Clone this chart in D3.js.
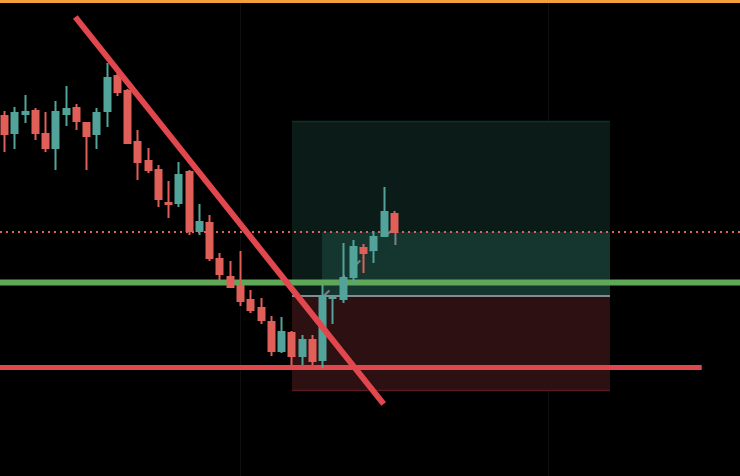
<!DOCTYPE html>
<html><head><meta charset="utf-8">
<script src="https://cdn.jsdelivr.net/npm/d3@7"></script>
<style>html,body{margin:0;padding:0;background:#000;overflow:hidden}</style>
</head><body>
<svg id="chart" width="740" height="476"></svg>
<script>
// OHLC candles (price units)
const opens  = [38.5,36.6,38.5,39.0,36.7,35.1,38.5,39.3,37.8,36.5,38.8,42.5,41.0,35.9,34.0,33.1,29.8,29.6,32.9,26.8,27.8,24.2,22.4,21.5,20.1,19.3,17.9,14.8,16.8,14.3,16.1,13.9,20.1,20.0,22.2,25.3,24.9,26.3,28.7];
const highs  = [38.9,39.3,40.5,39.2,38.8,39.9,41.4,39.6,37.8,39.2,43.7,42.7,41.1,37.0,35.2,33.5,31.9,33.8,33.0,29.6,28.5,24.7,23.9,24.9,21.0,20.2,18.4,18.3,16.9,16.5,16.5,21.5,20.5,25.7,26.0,25.6,26.9,31.3,28.9];
const lows   = [34.8,35.1,37.7,36.0,34.8,33.0,37.4,37.0,33.0,35.1,37.3,40.4,35.6,32.0,32.7,29.3,28.2,29.3,26.5,26.5,23.9,22.0,21.2,19.4,18.7,17.6,14.4,14.7,13.5,13.5,13.5,13.2,17.6,19.7,21.7,22.7,23.7,26.3,26.7];
const closes = [36.5,38.8,38.9,36.6,35.1,38.9,39.2,37.8,36.3,38.8,42.3,40.7,35.6,33.7,32.9,30.0,29.5,32.6,26.8,27.9,24.1,22.5,21.2,19.8,18.9,17.9,14.8,16.9,14.3,16.1,13.8,20.5,20.3,22.3,25.4,24.6,26.4,28.9,26.7];

// Drawing levels (price units) and bar indices
const trendline = [{i:6.95, p:48.3},{i:37.0, p:9.6}];
const supportLevel = {p:13.25, i0:-1, i1:68.0};
const greenLevel = 21.75;
const currentPrice = 26.8;
const position = {i0:28.07, i1:59.06, entry:20.4, target:37.9, stop:10.9, fillStart:31};
const projection = [{i:31.15, p:20.4},{i:38.2, p:27.4}];
const gridBars = [23, 53];

const W = 740, H = 476;
const x = d3.scaleLinear().domain([0, 38]).range([4, 393.9]);
const y = d3.scaleLinear().domain([50, 2.4]).range([0, H]);
const bodyW = 8;

const svg = d3.select("#chart");
svg.append("rect").attr("width",W).attr("height",H).attr("fill","#000");

// grid
svg.selectAll("line.grid").data(gridBars).enter().append("line")
  .attr("x1",d=>Math.round(x(d))+0.5).attr("x2",d=>Math.round(x(d))+0.5)
  .attr("y1",0).attr("y2",H).attr("stroke","#0f0f0f").attr("stroke-width",1);

// position tool
const px0 = x(position.i0), px1 = x(position.i1);
svg.append("rect").attr("x",px0).attr("y",y(position.target)).attr("width",px1-px0)
  .attr("height",y(position.entry)-y(position.target)).attr("fill","#0b1c18");
svg.append("line").attr("x1",px0).attr("x2",px1).attr("y1",y(position.target)+0.5).attr("y2",y(position.target)+0.5)
  .attr("stroke","#12302a").attr("stroke-width",1.5);
svg.append("rect").attr("x",x(position.fillStart)).attr("y",y(currentPrice)).attr("width",px1-x(position.fillStart))
  .attr("height",y(position.entry)-y(currentPrice)).attr("fill","#15352f");
svg.append("rect").attr("x",px0).attr("y",y(position.entry)).attr("width",px1-px0)
  .attr("height",y(position.stop)-y(position.entry)).attr("fill","#2d1012");
svg.append("line").attr("x1",px0).attr("x2",px1).attr("y1",y(position.stop)-0.5).attr("y2",y(position.stop)-0.5)
  .attr("stroke","#5a1a1f").attr("stroke-width",1.5);
svg.append("line").attr("x1",px0).attr("x2",px1).attr("y1",y(position.entry)).attr("y2",y(position.entry))
  .attr("stroke","#868b92").attr("stroke-width",2);

// current price dotted line
svg.append("line").attr("x1",0).attr("x2",W).attr("y1",y(currentPrice)).attr("y2",y(currentPrice))
  .attr("stroke","#e0605a").attr("stroke-width",2).attr("stroke-dasharray","2,4");

// green level
svg.append("line").attr("x1",0).attr("x2",W).attr("y1",y(greenLevel)).attr("y2",y(greenLevel))
  .attr("stroke","#5fa85a").attr("stroke-width",6);

// support
svg.append("line").attr("x1",0).attr("x2",x(supportLevel.i1)).attr("y1",y(supportLevel.p)).attr("y2",y(supportLevel.p))
  .attr("stroke","#e2474e").attr("stroke-width",5);

// projection dashed path
svg.append("line").attr("x1",x(projection[0].i)).attr("y1",y(projection[0].p))
  .attr("x2",x(projection[1].i)).attr("y2",y(projection[1].p))
  .attr("stroke","#7c828a").attr("stroke-width",2).attr("stroke-dasharray","8,13.5");
svg.append("line").attr("x1",x(projection[1].i)-0.5).attr("x2",x(projection[1].i)-0.5)
  .attr("y1",y(projection[1].p)+1).attr("y2",y(projection[1].p)+19)
  .attr("stroke","#7c828a").attr("stroke-width",2);

// candles
const data = opens.map((o,i)=>({i,o,h:highs[i],l:lows[i],c:closes[i]}));
const up = "#52a49a", dn = "#e15f59";
const g = svg.append("g");
const cg = g.selectAll("g").data(data).enter().append("g");
cg.append("line")
  .attr("x1",d=>Math.round(x(d.i))+0.5).attr("x2",d=>Math.round(x(d.i))+0.5)
  .attr("y1",d=>y(d.h)).attr("y2",d=>y(d.l))
  .attr("stroke",d=>d.c>=d.o?up:dn).attr("stroke-width",2);
cg.append("rect")
  .attr("x",d=>Math.round(x(d.i))-3.5).attr("width",bodyW)
  .attr("y",d=>y(Math.max(d.o,d.c)))
  .attr("height",d=>Math.max(2,Math.abs(y(d.o)-y(d.c))))
  .attr("fill",d=>d.c>=d.o?up:dn);

// trendline
svg.append("line").attr("x1",x(trendline[0].i)).attr("y1",y(trendline[0].p))
  .attr("x2",x(trendline[1].i)).attr("y2",y(trendline[1].p))
  .attr("stroke","#e2474e").attr("stroke-width",6);

// top orange border
svg.append("rect").attr("x",0).attr("y",0).attr("width",W).attr("height",3).attr("fill","#f4a03a");
</script>
</body></html>
